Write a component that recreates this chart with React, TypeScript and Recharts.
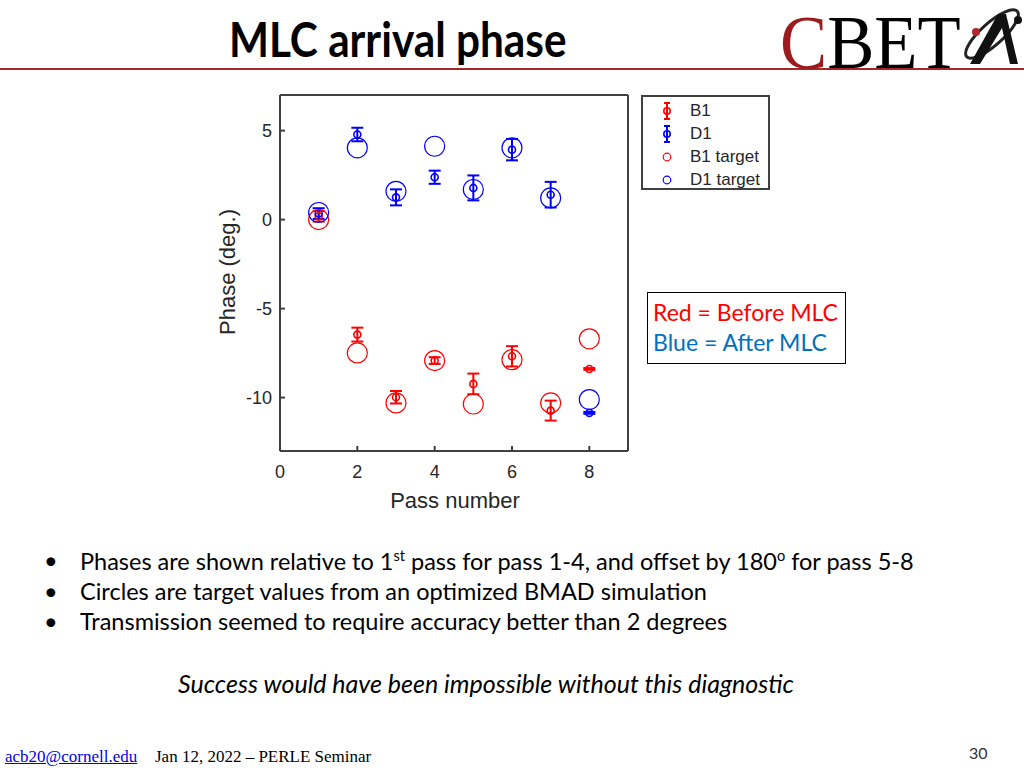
import React from 'react';
import { ScatterChart, Scatter, XAxis, YAxis, ErrorBar, Legend } from 'recharts';

// pass number on x, phase in degrees on y
const passes = [1, 2, 3, 4, 5, 6, 7, 8];
const b1Phase = [0.19, -6.46, -9.98, -7.92, -9.23, -7.68, -10.73, -8.39];
const b1Err = [0.3, 0.39, 0.35, 0.19, 0.58, 0.57, 0.56, 0.05];
const d1Phase = [0.34, 4.78, 1.25, 2.38, 1.78, 3.93, 1.4, -10.86];
const d1Err = [0.3, 0.38, 0.45, 0.37, 0.7, 0.6, 0.72, 0.05];
const b1Target = [0.0, -7.49, -10.3, -7.92, -10.36, -7.87, -10.3, -6.7];
const d1Target = [0.4, 4.03, 1.59, 4.12, 1.69, 4.03, 1.22, -10.11];

const xTicks = [0, 2, 4, 6, 8];
const yTicks = [5, 0, -5, -10];
const topTicks = [2, 4, 6, 8];
const rightTicks = [2, -3, -8];

const legendItems = [
  { label: 'B1', color: 'red', kind: 'bar' },
  { label: 'D1', color: 'blue', kind: 'bar' },
  { label: 'B1 target', color: 'red', kind: 'circle' },
  { label: 'D1 target', color: 'blue', kind: 'circle' },
];

const bullets = [
  <>Phases are shown relative to 1<sup style={{ fontSize: '0.62em' }}>st</sup> pass for pass 1-4, and offset by 180<sup style={{ fontSize: '0.62em' }}>o</sup> for pass 5-8</>,
  <>Circles are target values from an optimized BMAD simulation</>,
  <>Transmission seemed to require accuracy better than 2 degrees</>,
];

const b1Data = passes.map((p, i) => ({ x: p, y: b1Phase[i], err: b1Err[i] }));
const d1Data = passes.map((p, i) => ({ x: p, y: d1Phase[i], err: d1Err[i] }));
const b1TargetData = passes.map((p, i) => ({ x: p, y: b1Target[i] }));
const d1TargetData = passes.map((p, i) => ({ x: p, y: d1Target[i] }));

const axisColor = '#404040';
const sans = 'Liberation Sans, Arial, sans-serif';
const tickFont = { fill: '#262626', fontSize: 18, fontFamily: sans };

const smallDot = (color: string) => (props: any) => (
  <circle cx={props.cx} cy={props.cy} r={3.5} fill="none" stroke={color} strokeWidth={1.6} />
);
const bigRing = (color: string) => (props: any) => (
  <circle cx={props.cx} cy={props.cy} r={10} fill="none" stroke={color} strokeWidth={1.2} />
);

const LegendBox = () => (
  <div style={{ border: `2px solid ${axisColor}`, background: '#fff', width: 125, height: 91, boxSizing: 'content-box', fontFamily: sans, fontSize: 17, color: '#262626' }}>
    {legendItems.map((it) => (
      <div key={it.label} style={{ position: 'relative', height: 23, top: 3 }}>
        <svg width={20} height={23} style={{ position: 'absolute', left: 14, top: 0 }}>
          {it.kind === 'bar' ? (
            <g stroke={it.color} strokeWidth={2} fill="none">
              <line x1={10} y1={3} x2={10} y2={19} />
              <line x1={7} y1={3} x2={13} y2={3} />
              <line x1={7} y1={19} x2={13} y2={19} />
              <circle cx={10} cy={11} r={3.2} strokeWidth={1.6} />
            </g>
          ) : (
            <circle cx={10} cy={11} r={3.8} fill="none" stroke={it.color} strokeWidth={1.2} />
          )}
        </svg>
        <span style={{ position: 'absolute', left: 47, top: 1, lineHeight: '20px' }}>{it.label}</span>
      </div>
    ))}
  </div>
);

const abs = (left: number, top: number, extra: React.CSSProperties = {}): React.CSSProperties => ({
  position: 'absolute', left, top, whiteSpace: 'nowrap', lineHeight: 1, ...extra,
});

export default function App() {
  return (
    <div style={{ position: 'absolute', left: 0, top: 0, width: 1024, height: 768, background: '#fff', overflow: 'hidden', fontFamily: 'Lato, sans-serif' }}>
      {/* header */}
      <div style={abs(229, 16, { fontSize: 47, fontWeight: 700, color: '#000', transformOrigin: 'left top', transform: 'scaleX(0.9)' })}>MLC arrival phase</div>
      <div style={{ position: 'absolute', left: 0, top: 68, width: 1024, height: 2, background: '#a3262a' }} />
      <div style={abs(780, 4, { fontFamily: 'Liberation Serif, serif', fontSize: 76, transformOrigin: 'left top', transform: 'scaleX(0.93)' })}>
        <span style={{ color: '#9b1b1f' }}>C</span><span style={{ color: '#000' }}>BET</span>
      </div>
      <svg width={70} height={68} style={{ position: 'absolute', left: 956, top: 0 }}>
        <ellipse cx={36} cy={34} rx={34} ry={11} fill="none" stroke="#222" strokeWidth={3} transform="rotate(-42 36 34)" />
        <path d="M14 64 L42 14 L50 14 L62 64 L54 64 L46 28 L24 64 Z" fill="#111" />
        <circle cx={20} cy={32} r={4} fill="#b3262a" />
        <circle cx={62} cy={20} r={4} fill="#111" />
      </svg>

      {/* chart */}
      <div style={{ position: 'absolute', left: 200, top: 85 }}>
        <ScatterChart width={580} height={440} margin={{ top: 9, right: 151, bottom: 0, left: 0 }}>
          <XAxis type="number" dataKey="x" domain={[0, 9]} ticks={xTicks} allowDataOverflow height={74}
            stroke={axisColor} strokeWidth={2} tick={tickFont} tickSize={-5} tickMargin={19} />
          <YAxis type="number" dataKey="y" domain={[-13, 7]} ticks={yTicks} allowDataOverflow width={80}
            stroke={axisColor} strokeWidth={2} tick={tickFont} tickSize={-5} tickMargin={13} />
          <XAxis xAxisId="top" orientation="top" type="number" domain={[0, 9]} ticks={topTicks} height={1}
            stroke={axisColor} strokeWidth={2} tick={false} tickSize={-5} />
          <YAxis yAxisId="right" orientation="right" type="number" domain={[-13, 7]} ticks={rightTicks} width={1}
            stroke={axisColor} strokeWidth={2} tick={false} tickSize={-5} />
          <Scatter data={b1Data} shape={smallDot('red')} isAnimationActive={false}>
            <ErrorBar dataKey="err" direction="y" width={6} stroke="red" strokeWidth={2} />
          </Scatter>
          <Scatter data={d1Data} shape={smallDot('blue')} isAnimationActive={false}>
            <ErrorBar dataKey="err" direction="y" width={6} stroke="blue" strokeWidth={2} />
          </Scatter>
          <Scatter data={b1TargetData} shape={bigRing('red')} isAnimationActive={false} />
          <Scatter data={d1TargetData} shape={bigRing('blue')} isAnimationActive={false} />
          <Legend layout="horizontal" verticalAlign="middle" align="center" content={() => <LegendBox />}
            wrapperStyle={{ left: 441, top: 10, width: 129, height: 95 }} />
        </ScatterChart>
      </div>
      <div style={{ position: 'absolute', left: 228, top: 272, transform: 'translate(-50%, -50%) rotate(-90deg)', fontFamily: sans, fontSize: 22, color: '#262626', whiteSpace: 'nowrap', lineHeight: 1 }}>Phase (deg.)</div>
      <div style={{ position: 'absolute', left: 455, top: 501, transform: 'translate(-50%, -50%)', fontFamily: sans, fontSize: 22, color: '#262626', whiteSpace: 'nowrap', lineHeight: 1 }}>Pass number</div>

      {/* note box */}
      <div style={{ position: 'absolute', left: 647, top: 292, width: 197, height: 70, border: '1px solid #000', fontSize: 23 }}>
        <div style={abs(5, 8, { color: '#ff0000' })}>Red = Before MLC</div>
        <div style={abs(5, 38, { color: '#0070c0' })}>Blue = After MLC</div>
      </div>

      {/* bullets */}
      {bullets.map((b, i) => (
        <div key={i} style={abs(44, 549 + i * 30.5, { fontSize: 23.5, color: '#000' })}>
          <span style={{ position: 'absolute', left: 0 }}>•</span>
          <span style={{ position: 'absolute', left: 36 }}>{b}</span>
        </div>
      ))}
      <div style={abs(486, 671, { fontSize: 25, fontStyle: 'italic', color: '#000', transform: 'translateX(-50%)' })}>Success would have been impossible without this diagnostic</div>

      {/* footer */}
      <div style={abs(5, 748, { fontFamily: 'Liberation Serif, serif', fontSize: 17, color: '#0000ee', textDecoration: 'underline' })}>acb20@cornell.edu</div>
      <div style={abs(155, 748, { fontFamily: 'Liberation Serif, serif', fontSize: 17, color: '#000' })}>Jan 12, 2022 – PERLE Seminar</div>
      <div style={abs(969, 745, { fontSize: 16, color: '#333' })}>30</div>
    </div>
  );
}
